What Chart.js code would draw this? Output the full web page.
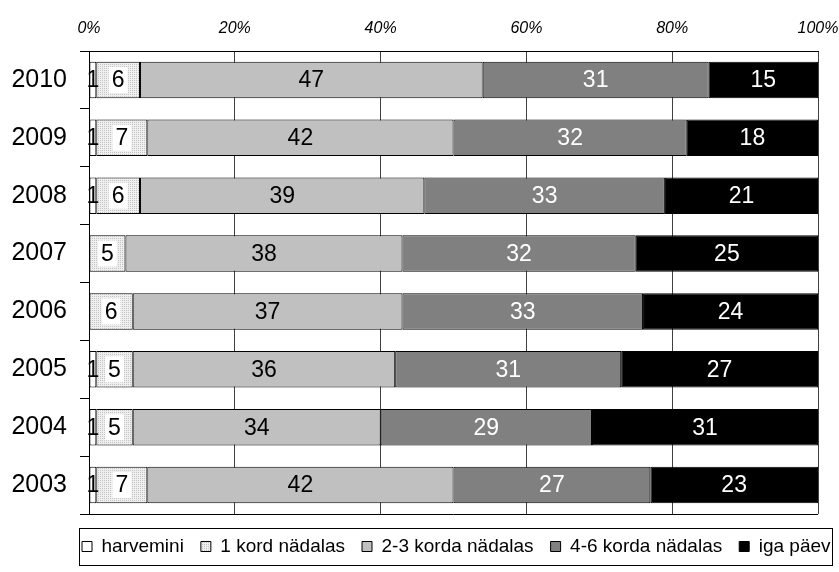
<!DOCTYPE html>
<html>
<head>
<meta charset="utf-8">
<script src="https://cdn.jsdelivr.net/npm/chart.js@4.4.1/dist/chart.umd.min.js"></script>
<style>
    html, body { margin: 0; padding: 0; background: #fff; }
    #wrap { width: 839px; height: 572px; }
</style>
</head>
<body>
<div id="wrap"><canvas id="chart" width="839" height="572"></canvas></div>
<script>
const years = ['2010', '2009', '2008', '2007', '2006', '2005', '2004', '2003'];
const seriesNames = ['harvemini', '1 kord nädalas', '2-3 korda nädalas', '4-6 korda nädalas', 'iga päev'];

const harvemini = [1, 1, 1, 0, 0, 1, 1, 1];
const kord1 = [6, 7, 6, 5, 6, 5, 5, 7];
const korda23 = [47, 42, 39, 38, 37, 36, 34, 42];
const korda46 = [31, 32, 33, 32, 33, 31, 29, 27];
const igaPaev = [15, 18, 21, 25, 24, 27, 31, 23];

const xTicks = [0, 20, 40, 60, 80, 100];

const FONT = "'Liberation Sans', Arial, sans-serif";
const LEGEND_PAD = 17;

// dotted fill for "1 kord nädalas"
function dotPattern() {
    const c = document.createElement('canvas');
    c.width = 2;
    c.height = 2;
    const g = c.getContext('2d');
    g.fillStyle = '#efefef';
    g.fillRect(0, 0, 2, 2);
    g.fillStyle = '#c4c4c4';
    g.fillRect(0, 0, 1, 1);
    return g.createPattern(c, 'repeat');
}

const ctx = document.getElementById('chart').getContext('2d');

const values = [harvemini, kord1, korda23, korda46, igaPaev];
const fills = ['#ffffff', dotPattern(), '#c0c0c0', '#808080', '#000000'];
const labelColors = ['#000', '#000', '#000', '#fff', '#fff'];

const valueLabels = {
    id: 'valueLabels',
    afterLayout(chart) {
        // start the legend row just left of the plot area, keep it on one line
        const lg = chart.legend;
        const a = chart.chartArea;
        const lw = lg.lineWidths[0];
        const x0 = a.left - 7;
        lg.right = x0 + lw + LEGEND_PAD;
        lg.left = x0 - 2 * LEGEND_PAD;
        lg.top = a.bottom + 6;
        lg.bottom = lg.top + lg.height;
    },
    afterDatasetsDraw(chart) {
        const g = chart.ctx;
        g.save();
        g.font = '23px ' + FONT;
        g.textAlign = 'center';
        g.textBaseline = 'middle';
        chart.data.datasets.forEach((ds, i) => {
            chart.getDatasetMeta(i).data.forEach((bar, j) => {
                const v = ds.data[j];
                if (!v) return;
                const cx = (bar.x + bar.base) / 2;
                const txt = String(v);
                if (i === 1) {
                    const w = g.measureText(txt).width + 6;
                    g.fillStyle = '#fff';
                    g.fillRect(cx - w / 2, bar.y - 13, w, 26);
                }
                g.fillStyle = labelColors[i];
                g.fillText(txt, cx, bar.y + 1);
            });
        });
        g.restore();
    },
    afterDraw(chart) {
        const g = chart.ctx;
        const a = chart.chartArea;
        g.save();
        g.strokeStyle = '#000';
        g.lineWidth = 1;
        // bottom edge of plot area
        g.beginPath();
        g.moveTo(a.left, Math.round(a.bottom) + 0.5);
        g.lineTo(a.right, Math.round(a.bottom) + 0.5);
        g.stroke();
        // legend frame
        g.strokeRect(a.left - 9.5, a.bottom + 14.5, chart.width - a.left + 3, chart.height - a.bottom - 21);
        g.restore();
    },
};

new Chart(ctx, {
    type: 'bar',
    data: {
        labels: years,
        datasets: seriesNames.map((name, i) => ({
            label: name,
            data: values[i],
            backgroundColor: fills[i],
            borderColor: '#000',
            borderWidth: 1,
            borderSkipped: false,
            categoryPercentage: 1,
            barPercentage: 0.63,
        })),
    },
    options: {
        indexAxis: 'y',
        responsive: false,
        animation: false,
        layout: {
            padding: { left: 0, right: 21, top: 0, bottom: 12 },
        },
        scales: {
            x: {
                position: 'top',
                stacked: true,
                min: 0,
                max: 100,
                afterBuildTicks(scale) {
                    scale.ticks = xTicks.map(v => ({ value: v }));
                },
                afterFit(scale) {
                    scale.height = 51;
                    scale.paddingLeft = 0;
                    scale.paddingRight = 0;
                },
                ticks: {
                    callback: v => v + '%',
                    color: '#000',
                    padding: 13,
                    maxRotation: 0,
                    font: { family: FONT, size: 16, style: 'italic' },
                },
                grid: {
                    color: '#404040',
                    lineWidth: 1,
                    drawTicks: false,
                },
                border: { display: true, color: '#000', width: 1 },
            },
            y: {
                stacked: true,
                afterFit(scale) {
                    scale.width = 89;
                },
                ticks: {
                    color: '#000',
                    padding: 13,
                    font: { family: FONT, size: 25 },
                },
                grid: {
                    offset: true,
                    drawOnChartArea: false,
                    tickLength: 9,
                    color: '#000',
                },
                border: { display: true, color: '#000', width: 1 },
            },
        },
        plugins: {
            legend: {
                position: 'bottom',
                labels: {
                    color: '#000',
                    boxWidth: 10,
                    boxHeight: 10,
                    padding: LEGEND_PAD,
                    font: { family: FONT, size: 19 },
                },
            },
            tooltip: { enabled: false },
        },
    },
    plugins: [valueLabels],
});
</script>
</body>
</html>
